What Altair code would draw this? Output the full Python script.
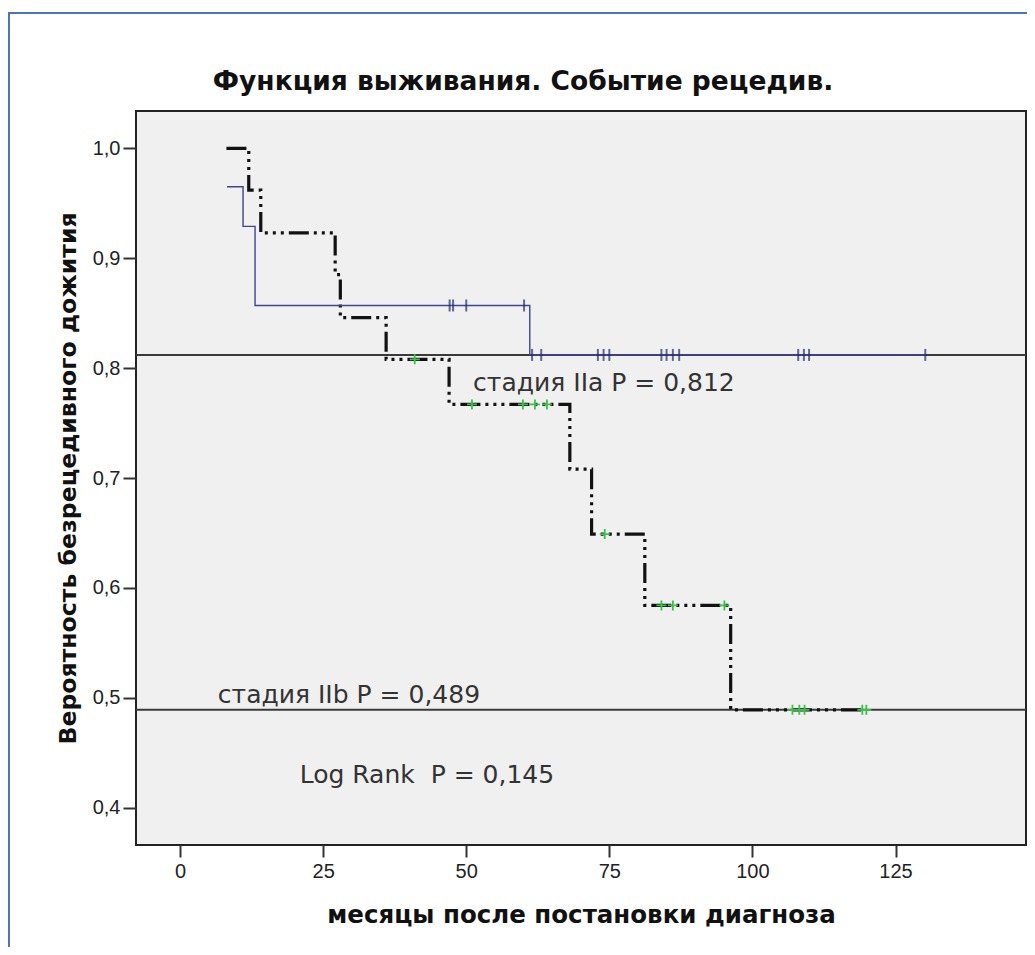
import altair as alt
import pandas as pd

# ---- data ----
iib_times = [8.1, 12.0, 14.1, 27.1, 28.0, 36.0, 47.0, 68.1, 71.9, 81.2, 96.2, 120.0]
iib_surv = [1.0, 0.962, 0.923, 0.885, 0.846, 0.808, 0.767, 0.708, 0.649, 0.584, 0.489, 0.489]
iib_censor = [41.0, 51.0, 59.9, 62.0, 64.1, 74.2, 84.1, 86.1, 95.1, 107.0, 108.2, 109.1, 119.2, 119.9]

iia_times = [8.2, 11.0, 13.1, 61.1, 130.2]
iia_surv = [0.965, 0.929, 0.857, 0.812, 0.812]
iia_censor = [47.1, 47.7, 50.0, 60.1, 61.5, 63.1, 73.0, 74.0, 75.0, 84.1, 85.0, 86.1,
              87.2, 108.0, 109.0, 109.9, 130.2]

ref_values = [0.812, 0.489]
ann_text = ["стадия IIa P = 0,812", "стадия IIb P = 0,489", "Log Rank\u00a0 P = 0,145"]
ann_x = [51.2, 6.6, 20.9]
ann_y = [0.779, 0.4955, 0.4227]

x_ticks = [0, 25, 50, 75, 100, 125]
y_ticks = [0.4, 0.5, 0.6, 0.7, 0.8, 0.9, 1.0]

TITLE = "Функция выживания. Событие рецедив."
X_TITLE = "месяцы после постановки диагноза"
Y_TITLE = "Вероятность безрецедивного дожития"


def step_value(times, surv, t):
    v = surv[0]
    for ti, si in zip(times, surv):
        if ti <= t:
            v = si
    return v


iib_df = pd.DataFrame({"t": iib_times, "s": iib_surv, "o": range(len(iib_times))})
iia_df = pd.DataFrame({"t": iia_times, "s": iia_surv, "o": range(len(iia_times))})
iib_c = pd.DataFrame({"t": iib_censor, "s": [step_value(iib_times, iib_surv, t) for t in iib_censor]})
iia_c = pd.DataFrame({"t": iia_censor, "s": [step_value(iia_times, iia_surv, t) for t in iia_censor]})
ref_df = pd.DataFrame({"s": ref_values})
ann_df = pd.DataFrame({"t": ann_x, "s": ann_y, "label": ann_text})
title_df = pd.DataFrame({"label": [TITLE]})

FONT = "Liberation Sans"
WIDE = "DejaVu Sans"
W, H = 890, 734

xs = alt.Scale(domain=[-7.7, 147.8], nice=False, zero=False)
ys = alt.Scale(domain=[0.366, 1.034], nice=False, zero=False)

X = alt.X("t:Q", scale=xs,
          axis=alt.Axis(values=x_ticks, title=X_TITLE, titleFontSize=24.5, titleFontWeight="bold",
                        titleFont=WIDE, titleColor="#111", titleY=70, titleBaseline="middle",
                        labelFontSize=20, labelFont=FONT, labelColor="#222", labelPadding=4,
                        tickSize=12, tickWidth=2, tickColor="#333", domain=False, grid=False,
                        labelFlush=False))
Y = alt.Y("s:Q", scale=ys,
          axis=alt.Axis(values=y_ticks, title=Y_TITLE, titleFontSize=23.6, titleFontWeight="bold",
                        titleFont=WIDE, titleColor="#111", titleX=-68, titleY=H / 2,
                        titleBaseline="middle", titleAlign="center", titleAngle=270,
                        labelExpr="replace(format(datum.value, '.1f'), '.', ',')",
                        labelFontSize=20, labelFont=FONT, labelColor="#222", labelPadding=3,
                        tickSize=13, tickWidth=2, tickColor="#333", domain=False, grid=False,
                        labelFlush=False))

ref_lines = alt.Chart(ref_df).mark_rule(color="#3a3a3a", strokeWidth=2).encode(y=Y)

iib_line = alt.Chart(iib_df).mark_line(
    interpolate="step-after", color="#111111", strokeWidth=3.2,
    strokeDash=[20, 5, 3, 5, 3, 5, 3, 5], strokeCap="butt"
).encode(x=X, y=Y, order="o:Q")

iia_line = alt.Chart(iia_df).mark_line(
    interpolate="step-after", color="#3d4494", strokeWidth=1.4
).encode(x=X, y=Y, order="o:Q")

iia_marks = alt.Chart(iia_c).mark_tick(
    orient="vertical", color="#222a70", size=12, thickness=2
).encode(x=X, y=Y)

iib_marks = alt.Chart(iib_c).mark_point(
    shape="M-1,0L1,0M0,-1L0,1", size=100, filled=False, stroke="#3cc04a", strokeWidth=1.8,
    opacity=1
).encode(x=X, y=Y)

ann = alt.Chart(ann_df).mark_text(
    align="left", baseline="alphabetic", fontSize=25, font=WIDE, color="#333"
).encode(x=X, y=Y, text="label:N")

title_mark = alt.Chart(title_df).mark_text(
    align="center", baseline="alphabetic", fontSize=26.5, font=WIDE, fontWeight="bold",
    color="#111"
).encode(x=alt.value(387), y=alt.value(-21), text="label:N")

frame_top = alt.Chart(ref_df.head(1)).mark_rule(color="#4a73c2", strokeWidth=2).encode(
    x=alt.value(-128), x2=alt.value(W + 1), y=alt.value(-98))
frame_left = alt.Chart(ref_df.head(1)).mark_rule(color="#4a73c2", strokeWidth=2).encode(
    x=alt.value(-127), y=alt.value(-98), y2=alt.value(H + 110))

chart = alt.layer(
    frame_top, frame_left, ref_lines, iib_line, iia_line, iia_marks, iib_marks, ann, title_mark
).properties(
    width=W, height=H,
    background="white",
    autosize=alt.AutoSizeParams(type="none"),
    padding={"left": 128, "top": 103, "right": 1, "bottom": 102},
).configure_view(
    fill="#f0f0f0", stroke="#222", strokeWidth=2
)

chart.save("out.html", embed_options={"renderer": "svg", "actions": False})
